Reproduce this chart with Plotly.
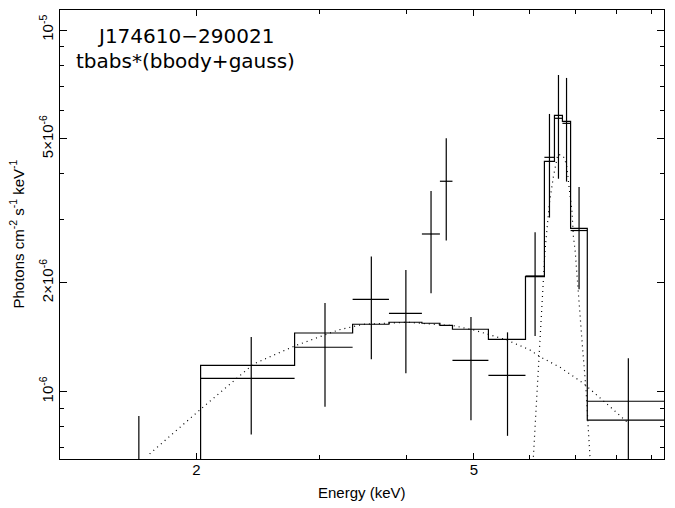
import plotly.graph_objects as go

# ---- data ----
bin_edges = [1.28, 2.028, 2.766, 3.350, 3.777, 4.211, 4.469, 4.658, 5.245,
             5.928, 6.31, 6.523, 6.697, 6.88, 7.27, 9.38]
data_flux = [5.5e-7, 1.089e-6, 1.327e-6, 1.80e-6, 1.647e-6, 2.729e-6, 3.818e-6,
             1.221e-6, 1.110e-6, 2.089e-6, 4.446e-6, 5.70e-6, 5.52e-6, 2.79e-6, 9.41e-7]
data_upper = [8.56e-7, 1.416e-6, 1.758e-6, 2.366e-6, 2.17e-6, 3.588e-6, 5.02e-6,
              1.609e-6, 1.459e-6, 2.759e-6, 5.86e-6, 7.51e-6, 7.37e-6, 3.68e-6, 1.237e-6]
data_lower = [2.5e-7, 7.62e-7, 9.09e-7, 1.229e-6, 1.124e-6, 1.871e-6, 2.618e-6,
              8.34e-7, 7.55e-7, 1.426e-6, 3.03e-6, 3.88e-6, 3.81e-6, 1.919e-6, 6.4e-7]
model_flux = [5.5e-7, 1.183e-6, 1.453e-6, 1.536e-6, 1.556e-6, 1.546e-6, 1.526e-6,
              1.488e-6, 1.396e-6, 2.08e-6, 4.335e-6, 5.81e-6, 5.59e-6, 2.83e-6, 8.34e-7]

bbody_energy = [1.714, 2.045, 2.416, 2.766, 3.198, 3.473, 4.008, 4.674, 4.993,
                5.275, 5.573, 6.018, 6.220, 6.645, 7.176, 7.836, 8.28]
bbody_flux = [6.73e-7, 9.07e-7, 1.193e-6, 1.338e-6, 1.482e-6, 1.536e-6, 1.556e-6,
              1.522e-6, 1.482e-6, 1.435e-6, 1.39e-6, 1.304e-6, 1.249e-6, 1.168e-6,
              1.055e-6, 9.09e-7, 8.26e-7]

gauss_energy = [6.085, 6.206, 6.324, 6.415, 6.50, 6.596, 6.683, 6.741, 6.794,
                6.853, 6.909, 6.945, 6.983, 7.161, 7.24, 7.336]
gauss_flux = [6.61e-7, 1.263e-6, 2.464e-6, 3.32e-6, 3.93e-6, 4.53e-6, 4.51e-6,
              4.43e-6, 4.19e-6, 3.61e-6, 3.18e-6, 2.68e-6, 2.464e-6, 1.304e-6,
              1.011e-6, 6.54e-7]

x_major_ticks = [2, 5]
x_major_text = ["2", "5"]
x_minor_ticks = [3, 4, 6, 7, 8, 9]
y_major_ticks = [1e-5, 5e-6, 2e-6, 1e-6]
y_major_text = ["10<sup>-5</sup>", "5\u00d710<sup>-6</sup>", "2\u00d710<sup>-6</sup>", "10<sup>-6</sup>"]
y_minor_ticks = [9e-6, 8e-6, 7e-6, 6e-6, 4e-6, 3e-6, 9e-7, 8e-7, 7e-7]

x_range = [0.10547, 0.97152]
y_range = [-6.1861, -4.9447]

# ---- derived ----
centers = [(a + b) / 2 for a, b in zip(bin_edges[:-1], bin_edges[1:])]
half_w = [(b - a) / 2 for a, b in zip(bin_edges[:-1], bin_edges[1:])]
err_up = [u - f for u, f in zip(data_upper, data_flux)]
err_dn = [f - l for f, l in zip(data_flux, data_lower)]

fig = go.Figure()

fig.add_trace(go.Scatter(
    x=bin_edges, y=model_flux + [model_flux[-1]], mode="lines",
    line=dict(color="black", width=1.2, shape="hv"), showlegend=False, hoverinfo="skip"))

fig.add_trace(go.Scatter(
    x=bbody_energy, y=bbody_flux, mode="lines",
    line=dict(color="black", width=1.2, dash="1px,4px"), showlegend=False))
fig.add_trace(go.Scatter(
    x=gauss_energy, y=gauss_flux, mode="lines",
    line=dict(color="black", width=1.2, dash="1px,4px"), showlegend=False))

fig.add_trace(go.Scatter(
    x=centers, y=data_flux, mode="markers",
    marker=dict(size=1, color="black"),
    error_x=dict(type="data", array=half_w, symmetric=True, width=0, thickness=1.2, color="black"),
    error_y=dict(type="data", array=err_up, arrayminus=err_dn, symmetric=False,
                 width=0, thickness=1.2, color="black"),
    showlegend=False, cliponaxis=True))

tick_font = dict(family="Liberation Sans, Arial, sans-serif", size=15, color="black")

fig.update_layout(
    width=675, height=508,
    margin=dict(l=60, r=11, t=10, b=49),
    paper_bgcolor="white", plot_bgcolor="white",
    xaxis=dict(type="log", range=x_range, showgrid=False, zeroline=False,
               showline=True, linecolor="black", linewidth=1, mirror="allticks",
               ticks="inside", ticklen=6, tickwidth=1, tickcolor="black",
               tickmode="array", tickvals=x_major_ticks, ticktext=x_major_text,
               tickfont=tick_font, ticklabelstandoff=-3,
               minor=dict(tickmode="array", tickvals=x_minor_ticks, ticks="inside",
                          ticklen=4, tickwidth=1, tickcolor="black", showgrid=False)),
    yaxis=dict(type="log", range=y_range, showgrid=False, zeroline=False,
               showline=True, linecolor="black", linewidth=1, mirror="allticks",
               ticks="inside", ticklen=7, tickwidth=1, tickcolor="black",
               tickmode="array", tickvals=y_major_ticks, ticktext=y_major_text,
               tickangle=-90, tickfont=tick_font,
               minor=dict(tickmode="array", tickvals=y_minor_ticks, ticks="inside",
                          ticklen=4, tickwidth=1, tickcolor="black", showgrid=False)),
)

fig.add_annotation(text="J174610\u2212290021", xref="paper", yref="paper",
                   x=0.2086, y=0.9420, xanchor="center", yanchor="middle", showarrow=False,
                   font=dict(family="DejaVu Sans", size=20, color="black"))
fig.add_annotation(text="tbabs*(bbody+gauss)", xref="paper", yref="paper",
                   x=0.2086, y=0.8864, xanchor="center", yanchor="middle", showarrow=False,
                   font=dict(family="DejaVu Sans", size=20, color="black"))

fig.add_annotation(text="Energy (keV)", xref="paper", yref="paper",
                   x=0.5, y=-(492 - 459) / 449, xanchor="center", yanchor="middle", showarrow=False,
                   font=dict(family="Liberation Sans, Arial, sans-serif", size=15, color="black"))
fig.add_annotation(text="Photons cm<sup>-2</sup> s<sup>-1</sup> keV<sup>-1</sup>",
                   xref="paper", yref="paper", textangle=-90,
                   x=-(60 - 17) / 604, y=0.5, xanchor="center", yanchor="middle", showarrow=False,
                   font=dict(family="Liberation Sans, Arial, sans-serif", size=15, color="black"))

fig.write_html("out.html", config={"displayModeBar": False},
               post_script="document.body.style.margin='0';document.body.style.padding='0';")
